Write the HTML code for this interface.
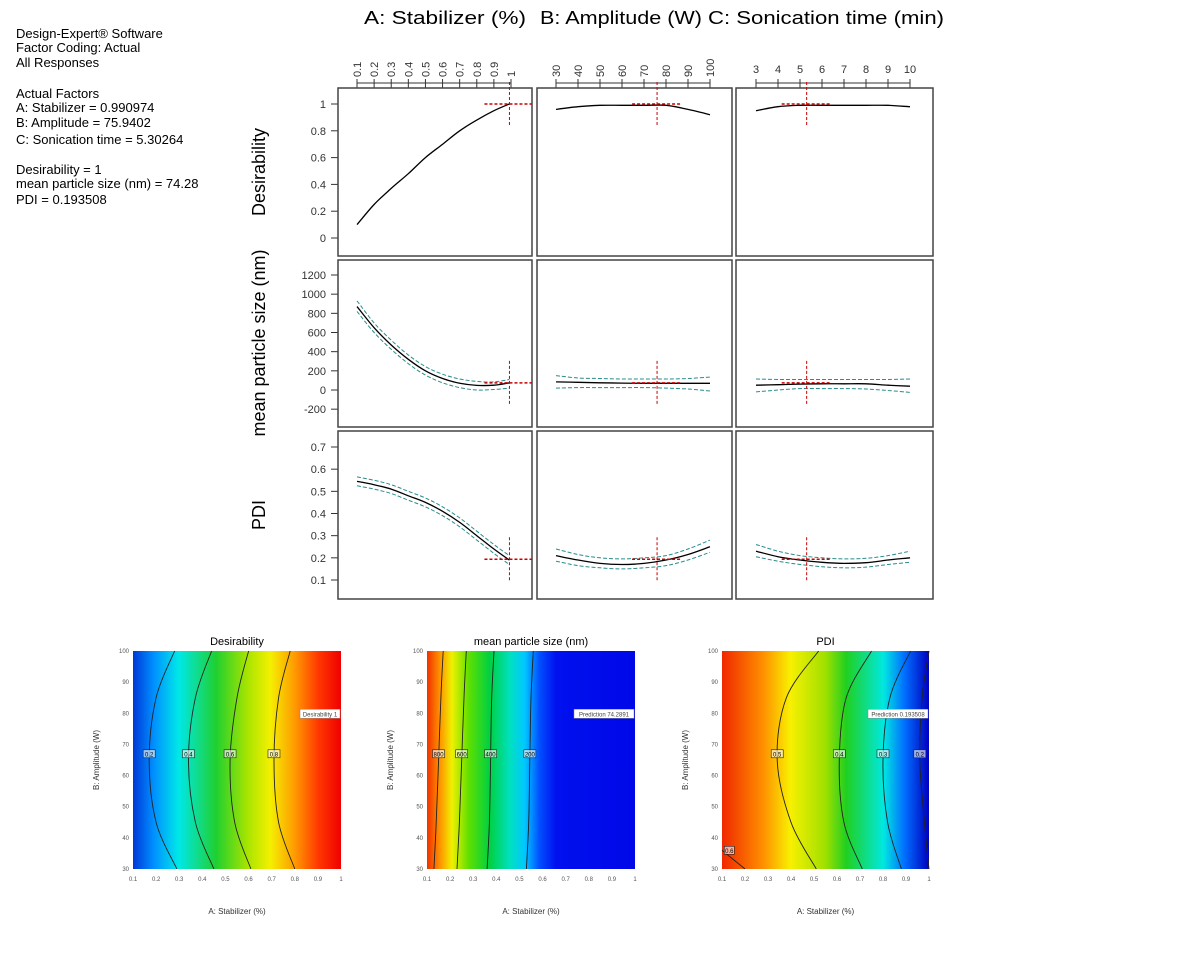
<!DOCTYPE html>
<html><head><meta charset="utf-8"><style>
body{margin:0;background:#fff;}
svg{display:block;font-family:"Liberation Sans",Arial,sans-serif;}
</style></head><body>
<svg id="c" width="1177" height="955" viewBox="0 0 1177 955">
<defs>
<linearGradient id="gD" x1="0" x2="1" y1="0" y2="0">
<stop offset="0" stop-color="#0038d8"/><stop offset="0.1" stop-color="#0090ff"/><stop offset="0.22" stop-color="#00e8e8"/><stop offset="0.4" stop-color="#20d030"/><stop offset="0.55" stop-color="#a8e400"/><stop offset="0.66" stop-color="#f4f000"/><stop offset="0.78" stop-color="#ff9800"/><stop offset="0.89" stop-color="#ff3800"/><stop offset="1" stop-color="#f00000"/></linearGradient>
<linearGradient id="gS" x1="0" x2="1" y1="0" y2="0">
<stop offset="0" stop-color="#f03000"/><stop offset="0.06" stop-color="#ff9000"/><stop offset="0.12" stop-color="#f0f000"/><stop offset="0.2" stop-color="#60e000"/><stop offset="0.3" stop-color="#00d040"/><stop offset="0.4" stop-color="#00e0c0"/><stop offset="0.47" stop-color="#00c8ff"/><stop offset="0.54" stop-color="#0050ff"/><stop offset="0.62" stop-color="#0010ee"/><stop offset="1" stop-color="#0008e8"/></linearGradient>
<linearGradient id="gP" x1="0" x2="1" y1="0" y2="0">
<stop offset="0" stop-color="#f02800"/><stop offset="0.2" stop-color="#ff9000"/><stop offset="0.33" stop-color="#f8f000"/><stop offset="0.5" stop-color="#a0e000"/><stop offset="0.6" stop-color="#20d020"/><stop offset="0.78" stop-color="#00e8e0"/><stop offset="0.88" stop-color="#0070ff"/><stop offset="1" stop-color="#0000c0"/></linearGradient>
</defs>
<g font-size="13" fill="#000">
<text x="16" y="38">Design-Expert® Software</text>
<text x="16" y="52">Factor Coding: Actual</text>
<text x="16" y="67">All Responses</text>
<text x="16" y="98">Actual Factors</text>
<text x="16" y="112">A: Stabilizer = 0.990974</text>
<text x="16" y="127">B: Amplitude = 75.9402</text>
<text x="16" y="144">C: Sonication time = 5.30264</text>
<text x="16" y="174">Desirability = 1</text>
<text x="16" y="188">mean particle size (nm) = 74.28</text>
<text x="16" y="204">PDI = 0.193508</text>
</g>
<text x="364" y="24" font-size="18" textLength="162" lengthAdjust="spacingAndGlyphs">A: Stabilizer (%)</text>
<text x="540" y="24" font-size="18" textLength="162" lengthAdjust="spacingAndGlyphs">B: Amplitude (W)</text>
<text x="708" y="24" font-size="18" textLength="236" lengthAdjust="spacingAndGlyphs">C: Sonication time (min)</text>
<g id="topg"></g>
<g id="botg"></g>
</svg>
<script>
const NS="http://www.w3.org/2000/svg";
// ---- data: factor axes ----
const aTicks=[0.1,0.2,0.3,0.4,0.5,0.6,0.7,0.8,0.9,1];
const bTicks=[30,40,50,60,70,80,90,100];
const cTicks=[3,4,5,6,7,8,9,10];
const desTicks=[0,0.2,0.4,0.6,0.8,1];
const sizeTicks=[-200,0,200,400,600,800,1000,1200];
const pdiTicks=[0.1,0.2,0.3,0.4,0.5,0.6,0.7];
const optA=0.990974, optB=75.9402, optC=5.30264;
const optDes=1, optSize=74.28, optPdi=0.193508;
// curve x values
const aX=[0.1,0.2,0.3,0.4,0.5,0.6,0.7,0.8,0.9,0.99];
const bX=[30,40,50,60,70,80,90,100];
const cX=[3,4,5,6,7,8,9,10];
// desirability
const desA=[0.1,0.25,0.37,0.48,0.6,0.7,0.8,0.88,0.95,1];
const desB=[0.96,0.98,0.99,0.99,0.99,0.99,0.96,0.92];
const desC=[0.95,0.98,0.99,0.99,0.99,0.99,0.99,0.98];
// mean particle size with CI
const sizeA=[870,650,470,320,200,120,70,48,50,74];
const sizeAlo=[820,600,425,275,155,75,25,0,5,20];
const sizeAhi=[930,700,520,365,245,165,115,90,85,110];
const sizeB=[85,80,75,72,70,70,70,70];
const sizeBlo=[20,25,25,25,25,20,10,-10];
const sizeBhi=[150,125,120,115,115,115,120,135];
const sizeC=[50,55,62,65,65,65,50,40];
const sizeClo=[-20,0,15,15,15,10,-5,-25];
const sizeChi=[115,110,110,110,110,110,110,115];
// PDI with CI
const pdiA=[0.545,0.53,0.51,0.48,0.45,0.41,0.36,0.3,0.24,0.19];
const pdiAlo=[0.525,0.51,0.49,0.46,0.43,0.39,0.34,0.28,0.22,0.17];
const pdiAhi=[0.565,0.55,0.53,0.5,0.47,0.43,0.38,0.32,0.26,0.21];
const pdiB=[0.21,0.19,0.175,0.17,0.175,0.19,0.215,0.25];
const pdiBlo=[0.185,0.165,0.155,0.15,0.155,0.165,0.19,0.225];
const pdiBhi=[0.24,0.215,0.2,0.195,0.2,0.21,0.24,0.28];
const pdiC=[0.23,0.205,0.19,0.18,0.175,0.178,0.19,0.2];
const pdiClo=[0.205,0.185,0.17,0.16,0.155,0.158,0.17,0.18];
const pdiChi=[0.26,0.23,0.21,0.2,0.195,0.198,0.21,0.23];
// contour data: A positions of each contour at these B levels
const contB=[30,45,65,85,100];
const desLevels=["0.2","0.4","0.6","0.8"];
const desCont=[[0.29,0.2,0.17,0.2,0.28],[0.45,0.37,0.34,0.37,0.44],[0.61,0.54,0.52,0.55,0.6],[0.8,0.73,0.71,0.73,0.78]];
const sizeLevels=["800","600","400","200"];
const sizeCont=[[0.13,0.14,0.15,0.16,0.17],[0.23,0.24,0.25,0.26,0.27],[0.36,0.37,0.375,0.38,0.39],[0.53,0.54,0.545,0.55,0.56]];
const pdiLevels=["0.5","0.4","0.3","0.2"];
const pdiCont=[[0.51,0.4,0.34,0.38,0.52],[0.71,0.63,0.61,0.64,0.75],[0.88,0.82,0.8,0.83,0.92],[1.0,0.98,0.96,0.97,1.0]];
const cAx=[0.1,0.2,0.3,0.4,0.5,0.6,0.7,0.8,0.9,1];
const cBy=[30,40,50,60,70,80,90,100];

function mk(tag,attrs,parent,txt){const e=document.createElementNS(NS,tag);for(const k in attrs)e.setAttribute(k,attrs[k]);if(txt!==undefined)e.textContent=txt;parent.appendChild(e);return e;}
function lin(d0,d1,r0,r1){return v=>r0+(v-d0)*(r1-r0)/(d1-d0);}
function smooth(P){let d=`M${P[0][0].toFixed(1)},${P[0][1].toFixed(1)}`;
 for(let i=0;i<P.length-1;i++){const p0=P[Math.max(0,i-1)],p1=P[i],p2=P[i+1],p3=P[Math.min(P.length-1,i+2)];
  const c1=[p1[0]+(p2[0]-p0[0])/6,p1[1]+(p2[1]-p0[1])/6],c2=[p2[0]-(p3[0]-p1[0])/6,p2[1]-(p3[1]-p1[1])/6];
  d+=` C${c1[0].toFixed(1)},${c1[1].toFixed(1)} ${c2[0].toFixed(1)},${c2[1].toFixed(1)} ${p2[0].toFixed(1)},${p2[1].toFixed(1)}`;}
 return d;}
const topG=document.getElementById('topg');
const cols=[{x0:338,x1:532,sc:lin(0.1,1,357,511),xs:aX,ticks:aTicks,opt:optA,rot:true},
{x0:537,x1:732,sc:lin(30,100,556,710),xs:bX,ticks:bTicks,opt:optB,rot:true},
{x0:736,x1:933,sc:lin(3,10,756,910),xs:cX,ticks:cTicks,opt:optC,rot:false}];
const rows=[{y0:88,y1:256,sc:lin(0,1,238,104),ticks:desTicks,title:"Desirability",tc:172,opt:optDes,
 ser:[[desA],[desB],[desC]]},
{y0:260,y1:427,sc:lin(0,1200,390,275),ticks:sizeTicks,title:"mean particle size (nm)",tc:343,opt:optSize,
 ser:[[sizeA,sizeAlo,sizeAhi],[sizeB,sizeBlo,sizeBhi],[sizeC,sizeClo,sizeChi]]},
{y0:431,y1:599,sc:lin(0.1,0.7,580,447),ticks:pdiTicks,title:"PDI",tc:515,opt:optPdi,
 ser:[[pdiA,pdiAlo,pdiAhi],[pdiB,pdiBlo,pdiBhi],[pdiC,pdiClo,pdiChi]]}];
cols.forEach((c,ci)=>{
 const g=mk('g',{},topG);
 
 
 mk('line',{x1:c.sc(c.ticks[0]),x2:c.sc(c.ticks[c.ticks.length-1]),y1:83,y2:83,stroke:'#333','stroke-width':1},g);
 c.ticks.forEach(t=>{const x=c.sc(t);mk('line',{x1:x,x2:x,y1:79,y2:88,stroke:'#333'},g);
  if(c.rot){mk('text',{x:0,y:0,'font-size':11,fill:'#333',transform:`translate(${x+4},77) rotate(-90)`},g,String(t));}
  else mk('text',{x:x,y:73,'font-size':11,fill:'#333','text-anchor':'middle'},g,String(t));});
});
rows.forEach((r,ri)=>{
 const yt=mk('text',{x:0,y:0,'font-size':18,'text-anchor':'middle',transform:`translate(265,${r.tc}) rotate(-90)`},topG,r.title);
 
 
 r.ticks.forEach(t=>{const y=r.sc(t);mk('line',{x1:331,x2:338,y1:y,y2:y,stroke:'#333'},topG);
  mk('text',{x:326,y:y+4,'font-size':11,fill:'#333','text-anchor':'end'},topG,String(t));});
 cols.forEach((c,ci)=>{
  const g=mk('g',{},topG);
  
  
  mk('rect',{x:c.x0,y:r.y0,width:c.x1-c.x0,height:r.y1-r.y0,fill:'#fff',stroke:'#444','stroke-width':1.5},g);
  const s=r.ser[ci];
  const pts=arr=>smooth(arr.map((v,i)=>[c.sc(c.xs[i]),r.sc(v)]));
  for(let k=1;k<s.length;k++){const l=mk('path',{d:pts(s[k]),fill:'none',stroke:'#2a8c8c','stroke-width':1,'stroke-dasharray':'4,2'},g);
   
   }
  const m=mk('path',{d:pts(s[0]),fill:'none',stroke:'#000','stroke-width':1.3},g);
  
  
  const ox=c.sc(c.opt),oy=r.sc(r.opt);
  mk('line',{x1:ox,x2:ox,y1:oy-22,y2:oy+22,stroke:'#c00','stroke-width':1,'stroke-dasharray':'3,2'},g);
  mk('line',{x1:ox-25,x2:Math.min(ox+25,c.x1),y1:oy,y2:oy,stroke:'#c00','stroke-width':1.5,'stroke-dasharray':'3,2'},g);
 });
});
const botG=document.getElementById('botg');
const plots=[{x0:133,x1:341,title:"Desirability",grad:'gD',levels:desLevels,cont:desCont,box:"Desirability 1"},
{x0:427,x1:635,title:"mean particle size (nm)",grad:'gS',levels:sizeLevels,cont:sizeCont,box:"Prediction 74.2891"},
{x0:722,x1:929,title:"PDI",grad:'gP',levels:pdiLevels,cont:pdiCont,box:"Prediction 0.193508"}];
const py0=651,py1=869;
plots.forEach((p,pi)=>{
 const g=mk('g',{},botG);
 
 
 const sx=lin(0.1,1,p.x0,p.x1), sy=lin(30,100,py1,py0);
 mk('rect',{x:p.x0,y:py0,width:p.x1-p.x0,height:py1-py0,fill:`url(#${p.grad})`},g);
 mk('text',{x:(p.x0+p.x1)/2,y:645,'font-size':11,'text-anchor':'middle'},g,p.title);
 p.cont.forEach((arr,li)=>{
  const d=smooth(arr.map((a,i)=>[sx(a),sy(contB[i])]));
  const l=mk('path',{d:d,fill:'none',stroke:'#222','stroke-width':0.9},g);
  
  
  const lx=sx(arr[2]),ly=sy(67);
  mk('rect',{x:lx-6,y:ly-4,width:12,height:8,fill:'#fff',stroke:'#222','stroke-width':0.6,'fill-opacity':0.6},g);
  mk('text',{x:lx,y:ly+2.5,'font-size':6,'text-anchor':'middle'},g,p.levels[li]);
 });
 if(pi===2){mk('line',{x1:sx(0.1),y1:sy(36),x2:sx(0.2),y2:sy(30),stroke:'#222','stroke-width':0.9},g);
  mk('rect',{x:sx(0.11),y:sy(36)-4,width:10,height:8,fill:'#fff',stroke:'#222','stroke-width':0.6,'fill-opacity':0.6},g);
  mk('text',{x:sx(0.11)+5,y:sy(36)+2.5,'font-size':6,'text-anchor':'middle'},g,"0.6");}
 const bw=pi===0?40:60;
 mk('rect',{x:p.x1-bw-1,y:sy(80)-4,width:bw,height:9,fill:'#fff',stroke:'#888','stroke-width':0.5},g);
 mk('text',{x:p.x1-bw/2-1,y:sy(80)+3,'font-size':6,'text-anchor':'middle',fill:'#444'},g,p.box);
 cAx.forEach(t=>{mk('text',{x:sx(t),y:py1+12,'font-size':6,'text-anchor':'middle',fill:'#555'},g,String(t));});
 cBy.forEach(t=>{mk('text',{x:p.x0-4,y:sy(t)+2,'font-size':6,'text-anchor':'end',fill:'#555'},g,String(t));});
 mk('text',{x:(p.x0+p.x1)/2,y:914,'font-size':8,'text-anchor':'middle',fill:'#333'},g,"A: Stabilizer (%)");
 mk('text',{x:0,y:0,'font-size':8,'text-anchor':'middle',fill:'#333',transform:`translate(${p.x0-34},${(py0+py1)/2}) rotate(-90)`},g,"B: Amplitude (W)");
});
</script>
</body></html>
